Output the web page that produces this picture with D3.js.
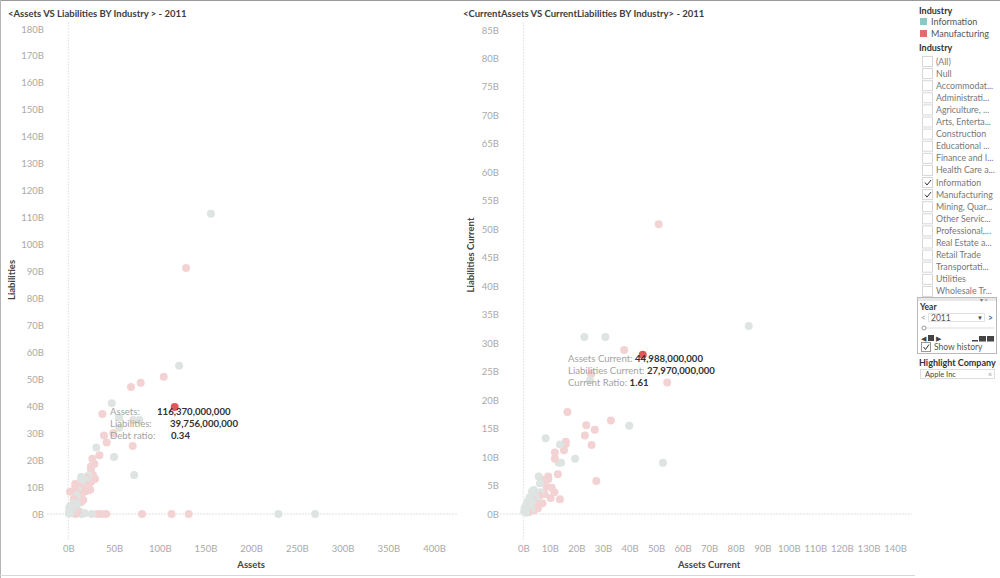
<!DOCTYPE html>
<html><head><meta charset="utf-8">
<script src="https://cdn.jsdelivr.net/npm/d3@7"></script>
<style>
body{margin:0;background:#fff;font-family:Lato,"Liberation Sans",Arial,sans-serif;}
svg{display:block}
</style></head>
<body>
<svg id="c" width="1000" height="578"></svg>
<script>
// ---------- DATA (values in billions) ----------
const leftTitle = "<Assets VS Liabilities BY Industry > - 2011";
const rightTitle = "<CurrentAssets VS CurrentLiabilities BY Industry> - 2011";
const leftXTicks = [0,50,100,150,200,250,300,350,400];
const leftYTicks = [0,10,20,30,40,50,60,70,80,90,100,110,120,130,140,150,160,170,180];
const rightXTicks = [0,10,20,30,40,50,60,70,80,90,100,110,120,130,140];
const rightYTicks = [0,5,10,15,20,25,30,35,40,45,50,55,60,65,70,75,80,85];

// Left chart: Assets vs Liabilities
const infoAssets = [156,121.2,47.5,55.5,71,77.7,55.8,30.6,50,72,229.8,270,14.7,25.6,
  22,20,17,15,13,11,10,9,8,7,6,5,4,3,2,1.5,1,0.5,3.5,6,9.5,12,18,2,9.5,14,19,4.5,2.5,1];
const infoLiab = [111.4,55,41.1,35.7,34.9,34.9,32,24.7,21.2,14.5,0,0,0,0,
  14.2,13.5,13,12.5,12,11,9,7,6,5,4,3.5,2.8,2,1.5,1,0.5,0.2,1,2,3.5,1,0.3,3,6.5,13.7,12.5,1.5,0.3,2.2];
const manuAssets = [128.8,104.4,79.2,68.6,37.2,49.2,39,42,70.4,34,26.3,28.5,24.8,24.8,29.2,1.9,7.3,16.4,
  8,32,36,41.4,80.6,113,131.7,25,22,20,18,15,12,13,20,24,10,6,12,14,4,7,10,3,16,19,27,14.7,7.5,11,17,21,2.5,5];
const manuLiab = [91.3,50.9,48.7,47.1,37.1,30,29.1,26.5,25.2,21.8,20.5,18.6,17.6,16.3,13,8.3,9.5,5.2,
  0,0,0,0,0,0,0,12,11,10.5,10,9.5,9,8,8.5,9,7.5,5.5,5,4.5,3,1.5,0.8,0.5,12,13.5,14.5,5.2,11.1,10.3,8.2,12.8,1.8,0.3];

// Right chart: Assets Current vs Liabilities Current
const infoCA = [84.9,23,30.9,25.1,39.9,8.4,13.8,19.5,13.3,14.2,52.6,5.8,6.3,3.2,4,2.5,2,1.5,1,0.5,0.3,1,2.5,3.5,4.5,5,3,6.5,1.8,0.8];
const infoCL = [33,31.1,31.1,23.5,15.5,13.3,12.2,9.7,9,9,9,6.6,5.4,3.9,4.2,3,2.5,2,1.5,1,0.4,0.2,1.2,2.2,3.2,2.4,0.8,3.8,0.6,0.9];
const manuCA = [51,38,54.2,25.5,16.6,33,23.7,26.9,23.2,16,16,25.7,15.3,11.9,11.9,13,9.4,9.4,7.5,27.5,8.8,10.7,11.7,13.8,10.3,7.2,4,5.5,6,3.5,2,8,5];
const manuCL = [50.9,28.8,23.1,24.6,17.9,16.4,15.6,14.8,13.8,12.7,12.3,12.1,11.2,10.8,9.7,7,6.6,6.1,6,5.8,4.8,4.6,3.8,2.6,2.8,1.9,0.6,1,3.2,2.5,0.3,3.5,1.8];

const highlight = {name:"Apple Inc", assets:116.37, liab:39.756, ca:44.988, cl:27.97};
const leftTip = [["Assets:", "116,370,000,000"],["Liabilities:", "39,756,000,000"],["Debt ratio:", "0.34"]];
const rightTip = [["Assets Current: ", "44,988,000,000"],["Liabilities Current: ", "27,970,000,000"],["Current Ratio: ", "1.61"]];

const legendItems = ["Information","Manufacturing"];
const industries = ["(All)","Null","Accommodat...","Administrati...","Agriculture, ...","Arts, Enterta...","Construction","Educational ...","Finance and I...","Health Care a...","Information","Manufacturing","Mining, Quar...","Other Servic...","Professional,...","Real Estate a...","Retail Trade","Transportati...","Utilities","Wholesale Tr..."];
const checked = ["Information","Manufacturing"];

// ---------- STYLE ----------
const FONT = "Lato, 'Liberation Sans', sans-serif";
const colInfo = "#dde4e2", colManu = "#f3d2d3", colHi = "#e15759";
const legInfo = "#8cc9c2", legManu = "#e46a6c";
const svg = d3.select("#c").attr("font-family",FONT);
const tickCol = "#a9a9a9";

// frame
svg.append("line").attr("x1",0).attr("x2",1000).attr("y1",0.5).attr("y2",0.5).attr("stroke","#9a9a9a");
svg.append("line").attr("x1",0.5).attr("x2",0.5).attr("y1",0).attr("y2",578).attr("stroke","#b5b5b5");
svg.append("line").attr("x1",0).attr("x2",915).attr("y1",575.5).attr("y2",575.5).attr("stroke","#d8d8d8");

function chart(o){
  const g = svg.append("g");
  const x = d3.scaleLinear().domain(o.xd).range(o.xr);
  const y = d3.scaleLinear().domain(o.yd).range(o.yr);
  g.append("text").attr("x",o.titleX).attr("y",16.5).attr("font-size",9.5).attr("font-weight",700)
    .attr("fill","#3c3c3c").text(o.title);
  // zero lines
  g.append("line").attr("x1",x(0)).attr("x2",x(0)).attr("y1",22).attr("y2",540)
    .attr("stroke","#e6e6e6").attr("stroke-dasharray","2,1");
  g.append("line").attr("x1",o.zx[0]).attr("x2",o.zx[1]).attr("y1",y(0)).attr("y2",y(0))
    .attr("stroke","#e0e0e0").attr("stroke-dasharray","2,1");
  // axes via d3 axis
  const ya = g.append("g").attr("transform",`translate(${o.yAxisX},0)`)
    .call(d3.axisLeft(y).tickValues(o.yt).tickFormat(d=>d+"B").tickSize(0).tickPadding(0));
  const xa = g.append("g").attr("transform",`translate(0,${o.xAxisY})`)
    .call(d3.axisBottom(x).tickValues(o.xt).tickFormat(d=>d+"B").tickSize(0).tickPadding(0));
  [ya,xa].forEach(a=>{a.select(".domain").remove();
    a.selectAll("text").attr("fill",tickCol).attr("font-size",9.5).attr("font-family",FONT);});
  xa.selectAll("text").attr("dy","0.32em");
  // axis titles
  g.append("text").attr("x",(o.xr[0]+o.xr[1])/2 + o.xtOff).attr("y",568).attr("text-anchor","middle")
    .attr("font-size",9.5).attr("font-weight",700).attr("fill","#444").text(o.xTitle);
  g.append("text").attr("transform",`translate(${o.ytX},${o.ytY}) rotate(-90)`).attr("text-anchor","middle")
    .attr("font-size",9.5).attr("font-weight",700).attr("fill","#444").text(o.yTitle);
  // points
  const pts = [];
  o.mx.forEach((v,i)=>pts.push({x:v,y:o.my[i],c:colManu}));
  o.ix.forEach((v,i)=>pts.push({x:v,y:o.iy[i],c:colInfo}));
  pts.sort((a,b)=> (b.x+b.y)-(a.x+a.y));
  g.selectAll("circle.p").data(pts).join("circle").attr("class","p")
    .attr("cx",d=>x(d.x)).attr("cy",d=>y(d.y)).attr("r",4).attr("fill",d=>d.c);
  g.append("circle").attr("cx",x(o.hx)).attr("cy",y(o.hy)).attr("r",4).attr("fill",colHi);
  // tooltip text
  o.tip.forEach((t,i)=>{
    const tx = g.append("text").attr("x",o.tipX).attr("y",o.tipY+i*12).attr("font-size",9.6);
    if(o.tipAligned){
      tx.append("tspan").attr("fill","#a3a3a3").text(t[0]);
      g.append("text").attr("x",o.valX[i]).attr("y",o.tipY+i*12).attr("font-size",9.6)
        .attr("fill","#333").attr("font-weight",700).text(t[1]);
    } else {
      tx.append("tspan").attr("fill","#a3a3a3").text(t[0]);
      tx.append("tspan").attr("fill","#333").attr("font-weight",700).text(t[1]);
    }
  });
}

chart({title:leftTitle,titleX:8,xd:[0,400],xr:[68.3,434],yd:[0,180],yr:[514,29],
  zx:[47,458],yAxisX:44,xAxisY:549,xt:leftXTicks,yt:leftYTicks,xTitle:"Assets",xtOff:0,
  yTitle:"Liabilities",ytX:15,ytY:280,ix:infoAssets,iy:infoLiab,mx:manuAssets,my:manuLiab,
  hx:highlight.assets,hy:highlight.liab,tip:leftTip,tipX:110,tipY:415,tipAligned:true,valX:[157,170,171]});
chart({title:rightTitle,titleX:463,xd:[0,140],xr:[523.3,895],yd:[0,85],yr:[514,30],
  zx:[500,912],yAxisX:499,xAxisY:549,xt:rightXTicks,yt:rightYTicks,xTitle:"Assets Current",xtOff:0,
  yTitle:"Liabilities Current",ytX:474,ytY:255,ix:infoCA,iy:infoCL,mx:manuCA,my:manuCL,
  hx:highlight.ca,hy:highlight.cl,tip:rightTip,tipX:568,tipY:362,tipAligned:false});

// ---------- RIGHT PANEL ----------
const p = svg.append("g");
p.append("text").attr("x",919).attr("y",14).attr("font-size",9).attr("font-weight",700).attr("fill","#333").text("Industry");
legendItems.forEach((n,i)=>{
  p.append("rect").attr("x",920).attr("y",18+i*12).attr("width",7).attr("height",7).attr("fill",i?legManu:legInfo);
  p.append("text").attr("x",931).attr("y",25+i*12).attr("font-size",9).attr("fill","#555").text(n);
});
p.append("text").attr("x",919).attr("y",51).attr("font-size",9).attr("font-weight",700).attr("fill","#333").text("Industry");
industries.forEach((n,i)=>{
  const yy = 56 + i*12.1;
  p.append("rect").attr("x",922.5).attr("y",yy+0.5).attr("width",10).attr("height",10).attr("fill","#fff").attr("stroke","#d6d6d6");
  if(checked.includes(n)) p.append("path").attr("d",`M${925} ${yy+5.5} L${927} ${yy+8} L${931} ${yy+3}`).attr("fill","none").attr("stroke","#333").attr("stroke-width",1);
  p.append("text").attr("x",936).attr("y",yy+8.5).attr("font-size",8.8).attr("fill","#777").text(n);
});
// Year widget
p.append("rect").attr("x",917.5).attr("y",297.5).attr("width",79).attr("height",56).attr("fill","#fff").attr("stroke","#b9b9b9");
p.append("rect").attr("x",918).attr("y",298).attr("width",78).attr("height",3).attr("fill","#e8e8e8");
p.append("text").attr("x",980).attr("y",302).attr("font-size",5.5).attr("fill","#777").text("▾ ×");
p.append("text").attr("x",920).attr("y",309.5).attr("font-size",8.5).attr("font-weight",700).attr("fill","#333").text("Year");
p.append("text").attr("x",921).attr("y",320.5).attr("font-size",8.5).attr("fill","#999").text("<");
p.append("rect").attr("x",928.5).attr("y",313.5).attr("width",56).attr("height",8).attr("fill","#fff").attr("stroke","#e2e2e2");
p.append("text").attr("x",931).attr("y",320.5).attr("font-size",8.5).attr("fill","#555").text("2011");
p.append("text").attr("x",977).attr("y",320).attr("font-size",6).attr("fill","#444").text("▼");
p.append("text").attr("x",988).attr("y",320.5).attr("font-size",8.5).attr("font-weight",700).attr("fill","#3a6fb0").text(">");
p.append("line").attr("x1",922).attr("x2",994).attr("y1",328).attr("y2",328).attr("stroke","#ddd");
p.append("circle").attr("cx",924).attr("cy",328).attr("r",2).attr("fill","#fff").attr("stroke","#999");
p.append("text").attr("x",921).attr("y",341).attr("font-size",7).attr("fill","#444").text("◀");
p.append("rect").attr("x",928).attr("y",335).attr("width",6).attr("height",6).attr("fill","#444");
p.append("text").attr("x",936).attr("y",341).attr("font-size",7).attr("fill","#444").text("▶");
p.append("rect").attr("x",972).attr("y",340).attr("width",6).attr("height",1.5).attr("fill","#444");
p.append("rect").attr("x",979).attr("y",336).attr("width",7).attr("height",5.5).attr("fill","#444");
p.append("rect").attr("x",987).attr("y",336).attr("width",7).attr("height",5.5).attr("fill","#444");
p.append("rect").attr("x",921.5).attr("y",342.5).attr("width",9).attr("height",9).attr("fill","#fff").attr("stroke","#999");
p.append("path").attr("d","M923.5 347 L925.5 349.5 L929 344.5").attr("fill","none").attr("stroke","#333");
p.append("text").attr("x",934).attr("y",350).attr("font-size",8.5).attr("fill","#555").text("Show history");
// Highlight company
p.append("text").attr("x",919).attr("y",366).attr("font-size",9).attr("font-weight",700).attr("fill","#333").text("Highlight Company");
p.append("rect").attr("x",920.5).attr("y",369.5).attr("width",74).attr("height",9).attr("fill","#fff").attr("stroke","#ddd");
p.append("text").attr("x",925).attr("y",377).attr("font-size",7.5).attr("fill","#444").text(highlight.name);
p.append("text").attr("x",988).attr("y",377).attr("font-size",7).attr("fill","#999").text("×");
</script>
</body></html>
